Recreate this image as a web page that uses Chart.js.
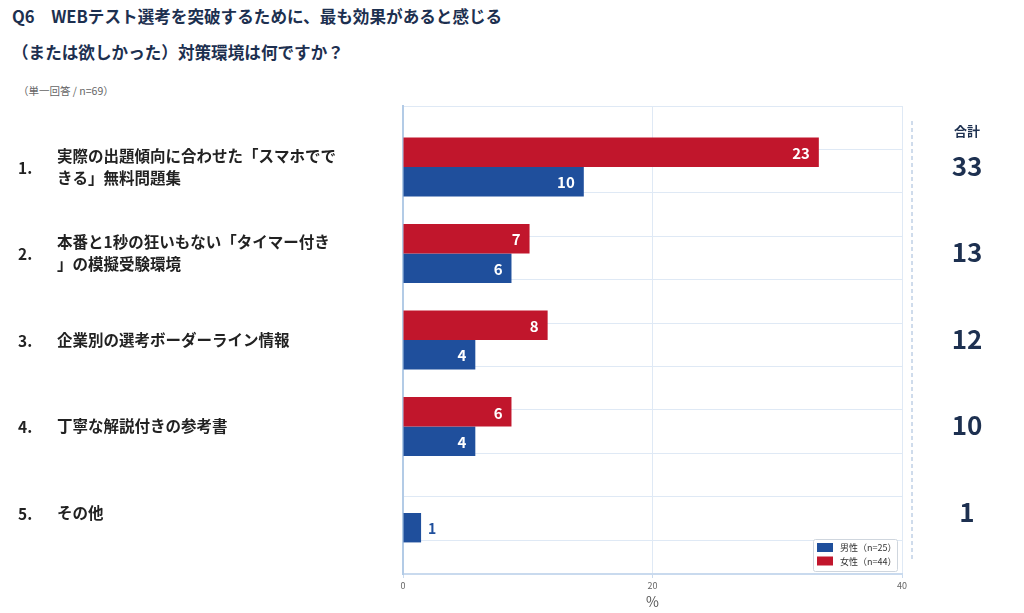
<!DOCTYPE html>
<html lang="ja">
<head>
<meta charset="utf-8">
<script src="https://cdn.jsdelivr.net/npm/chart.js@4.4.1/dist/chart.umd.min.js"></script>
<style>
  html, body { margin: 0; padding: 0; background: #fff; }
  body { width: 1024px; height: 613px; position: relative; overflow: hidden;
         font-family: "Noto Sans CJK JP", "Noto Sans", sans-serif; }
  .q { position: absolute; left: 12px; font-size: 16.6px; line-height: 24px; font-weight: 700;
       color: #1d3050; white-space: nowrap; }
  #q1 { top: 4px; }
  #q2 { top: 40px; }
  #note { position: absolute; left: 18px; top: 84px; font-size: 10.5px; line-height: 14px; color: #666; }
  #wrap { position: absolute; left: 0; top: 0; width: 1024px; height: 613px; }
</style>
</head>
<body>
<div class="q" id="q1">Q6　WEBテスト選考を突破するために、最も効果があると感じる</div>
<div class="q" id="q2">（または欲しかった）対策環境は何ですか？</div>
<div id="note">（単一回答 / n=69）</div>
<div id="wrap"><canvas id="myChart"></canvas></div>
<script>
const categories = [
  ["実際の出題傾向に合わせた「スマホでで", "きる」無料問題集"],
  ["本番と1秒の狂いもない「タイマー付き", "」の模擬受験環境"],
  ["企業別の選考ボーダーライン情報"],
  ["丁寧な解説付きの参考書"],
  ["その他"]
];
const femaleCounts = [23, 7, 8, 6, 0];
const maleCounts = [10, 6, 4, 4, 1];
const totalCounts = [33, 13, 12, 10, 1];
const respondents = 69;
const seriesLabels = ["女性（n=44）", "男性（n=25）"];
const xTicks = [0, 20, 40];

const RED = "#c1162c";
const BLUE = "#1f4f9c";
const NAVY = "#1d3050";
const FONT = '"Noto Sans CJK JP", "Noto Sans", sans-serif';

const toPoints = (counts) =>
  counts.map((c, i) => ({ x: (c / respondents) * 100, y: i, n: c }));

const overlay = {
  id: "overlay",
  afterDatasetsDraw(chart) {
    const { ctx } = chart;
    chart.data.datasets.forEach((ds, di) => {
      const meta = chart.getDatasetMeta(di);
      meta.data.forEach((bar, i) => {
        const n = ds.data[i].n;
        if (!n) return;
        const w = bar.x - bar.base;
        ctx.save();
        ctx.textBaseline = "middle";
        if (w > 30) {
          ctx.font = "bold 15px " + FONT;
          ctx.fillStyle = "#fff";
          ctx.textAlign = "right";
          ctx.fillText(n, bar.x - 9, bar.y + 1);
        } else {
          ctx.font = "bold 14px " + FONT;
          ctx.fillStyle = ds.backgroundColor;
          ctx.textAlign = "left";
          ctx.fillText(n, bar.x + 7, bar.y + 1);
        }
        ctx.restore();
      });
    });
  },
  afterDraw(chart) {
    const { ctx, chartArea } = chart;
    const yScale = chart.scales.y;
    ctx.save();
    ctx.textBaseline = "middle";

    // left labels
    categories.forEach((lines, i) => {
      const cy = yScale.getPixelForValue(i);
      ctx.fillStyle = "#222";
      ctx.font = "bold 15.5px " + FONT;
      ctx.textAlign = "left";
      ctx.fillText((i + 1) + ".", 18, cy + 1);
      const lh = 22;
      const y0 = cy - ((lines.length - 1) * lh) / 2;
      lines.forEach((t, k) => ctx.fillText(t, 57, y0 + k * lh));
    });

    // totals column
    ctx.strokeStyle = "#9fb8d8";
    ctx.lineWidth = 1;
    ctx.setLineDash([4, 3]);
    ctx.beginPath();
    ctx.moveTo(912, 121);
    ctx.lineTo(912, 562);
    ctx.stroke();
    ctx.setLineDash([]);

    ctx.fillStyle = NAVY;
    ctx.textAlign = "center";
    ctx.font = "bold 13px " + FONT;
    ctx.fillText("合計", 967, 131);
    ctx.font = "bold 26px " + FONT;
    totalCounts.forEach((t, i) => {
      ctx.fillText(t, 967, yScale.getPixelForValue(i) - 1);
    });

    // legend
    const lx = chartArea.right - 89, ly = chartArea.bottom - 35;
    ctx.fillStyle = "#fff";
    ctx.strokeStyle = "#cfd6de";
    ctx.lineWidth = 1;
    ctx.beginPath();
    ctx.roundRect(lx + 0.5, ly + 0.5, 84, 32, 2);
    ctx.fill();
    ctx.stroke();
    const items = chart.data.datasets.slice().reverse();
    items.forEach((ds, k) => {
      const yy = ly + 4 + k * 13.5;
      ctx.fillStyle = ds.backgroundColor;
      ctx.fillRect(lx + 4, yy, 16, 9);
      ctx.fillStyle = "#333";
      ctx.font = "9px " + FONT;
      ctx.textAlign = "left";
      ctx.fillText(ds.label, lx + 27, yy + 5);
    });
    ctx.restore();
  }
};

new Chart(document.getElementById("myChart"), {
  type: "bar",
  data: {
    datasets: [
      { label: seriesLabels[0], data: toPoints(femaleCounts), backgroundColor: RED, borderWidth: 0 },
      { label: seriesLabels[1], data: toPoints(maleCounts), backgroundColor: BLUE, borderWidth: 0 }
    ]
  },
  options: {
    indexAxis: "y",
    responsive: true,
    maintainAspectRatio: false,
    animation: false,
    categoryPercentage: 0.68,
    barPercentage: 1,
    layout: { padding: { left: 403, right: 122, top: 106, bottom: 0 } },
    plugins: { legend: { display: false }, tooltip: { enabled: false } },
    scales: {
      x: {
        type: "linear",
        position: "bottom",
        min: xTicks[0],
        max: xTicks[xTicks.length - 1],
        afterBuildTicks: (s) => { s.ticks = xTicks.map((v) => ({ value: v })); },
        ticks: { color: "#666", font: { size: 9, family: FONT }, padding: 2 },
        grid: { color: "#dfe9f5", tickLength: 4, tickColor: "#c9daee" },
        border: { color: "#c9daee", width: 2 },
        title: { display: true, text: "%", color: "#555", font: { size: 14, family: FONT },
                 padding: { top: 0, bottom: 3 } },
        afterFit: (s) => { s.height = 39; }
      },
      y: {
        type: "linear",
        position: "left",
        offset: false,
        min: -0.705,
        max: 4.705,
        reverse: true,
        afterBuildTicks: (s) => { s.ticks = categories.map((c, i) => ({ value: i })); },
        ticks: { display: false },
        grid: { display: false, offset: false },
        border: { color: "#b3cbe6", width: 2 },
        afterFit: (s) => { s.width = 0; }
      },
      yGrid: {
        type: "linear",
        position: "left",
        offset: false,
        min: 0,
        max: 10.78,
        reverse: true,
        afterBuildTicks: (s) => {
          s.ticks = Array.from({ length: 11 }, (_, k) => ({ value: k }));
        },
        ticks: { display: false },
        grid: { color: "#dfe9f5", drawTicks: false, offset: false },
        border: { display: false },
        afterFit: (s) => { s.width = 0; }
      }
    }
  },
  plugins: [overlay]
});
</script>
</body>
</html>
